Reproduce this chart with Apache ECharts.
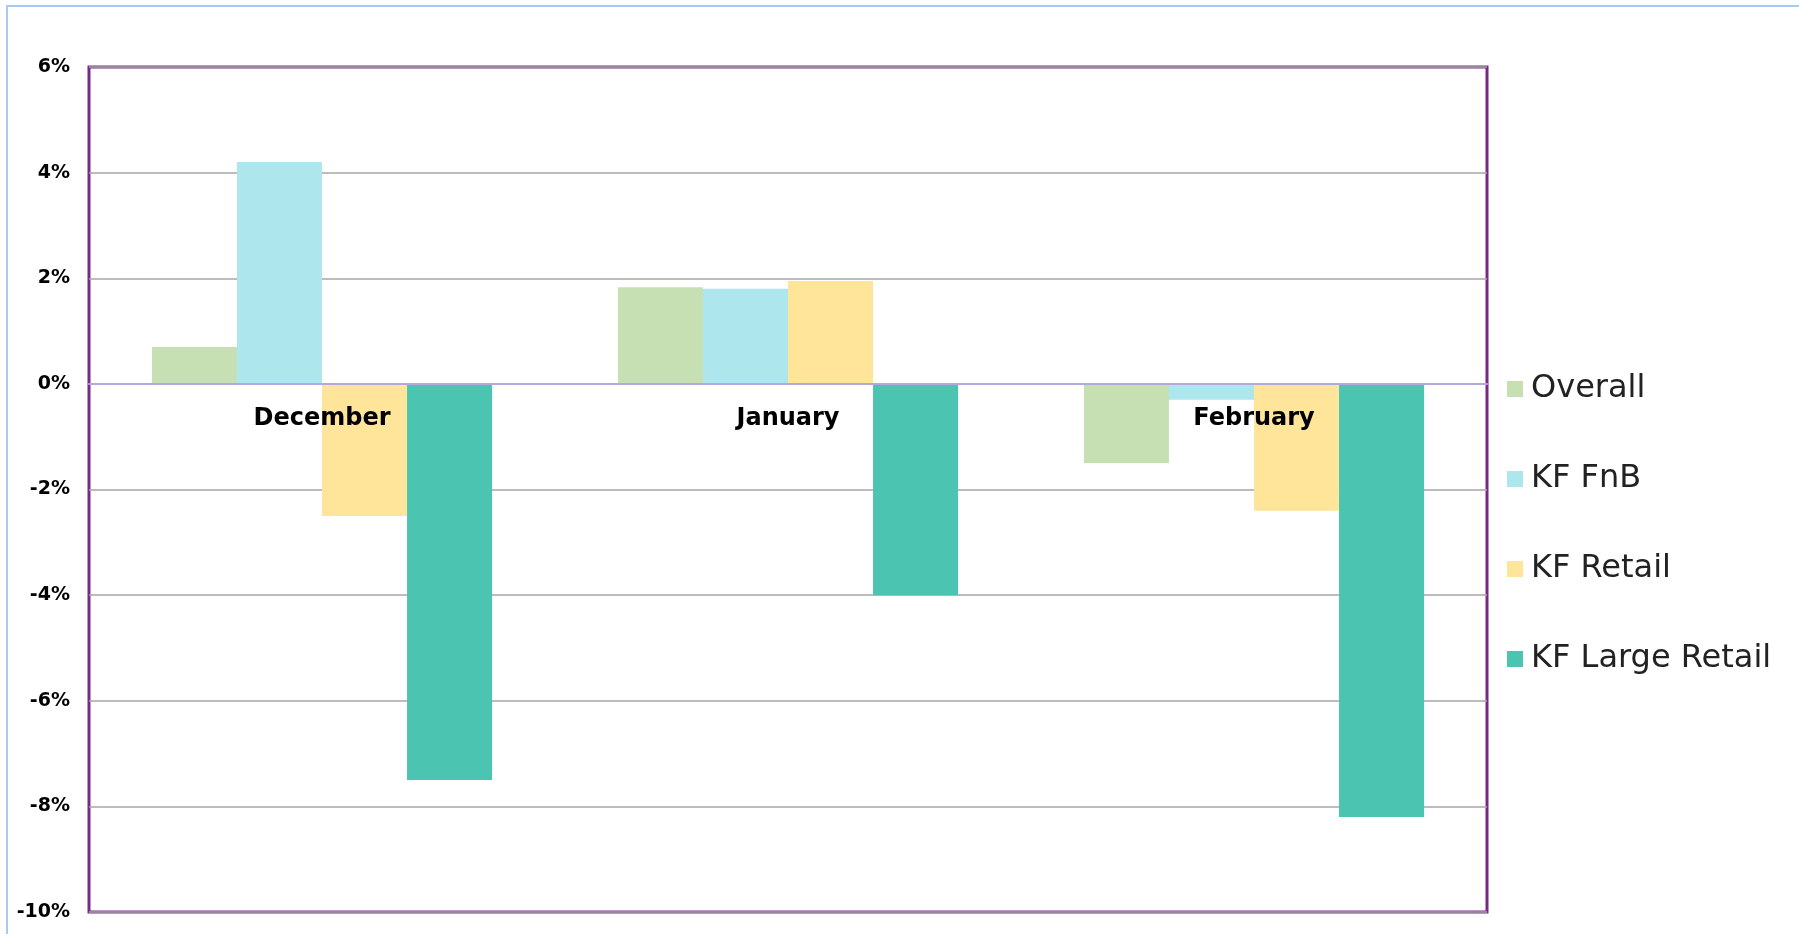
<!DOCTYPE html>
<html>
<head>
<meta charset="utf-8">
<script src="https://cdn.jsdelivr.net/npm/echarts@6/dist/echarts.min.js"></script>
<style>
html,body{margin:0;padding:0;background:#fff;}
#chart{width:1799px;height:934px;}
</style>
</head>
<body>
<div id="chart"></div>
<script>
const categories = ['December', 'January', 'February'];
const seriesNames = ['Overall', 'KF FnB', 'KF Retail', 'KF Large Retail'];
const overall = [0.7, 1.83, -1.5];
const kfFnB = [4.2, 1.8, -0.3];
const kfRetail = [-2.5, 1.95, -2.4];
const kfLargeRetail = [-7.5, -4.0, -8.2];
const yTicks = [-10, -8, -6, -4, -2, 0, 2, 4, 6];
const colors = ['#c6e0b4', '#aee6ee', '#fee599', '#4bc5b1'];

const chart = echarts.init(document.getElementById('chart'));
const seriesData = [overall, kfFnB, kfRetail, kfLargeRetail];
const barSeries = seriesNames.map((name, i) => ({
  name: name,
  type: 'bar',
  data: seriesData[i],
  barGap: 0,
  barCategoryGap: '27%',
  itemStyle: {color: colors[i]}
}));
const labelSeries = {
  name: 'categoryLabels',
  type: 'scatter',
  silent: true,
  z: 6,
  symbol: 'rect',
  symbolSize: 2,
  itemStyle: {color: 'rgba(255,255,255,0)'},
  data: categories.map(c => [c, 0]),
  labelLayout: {hideOverlap: false},
  label: {
    show: true,
    position: 'bottom',
    distance: 22,
    opacity: 1,
    textBorderWidth: 0,
    formatter: p => p.value[0],
    fontFamily: 'DejaVu Sans', fontWeight: 'bold', fontSize: 24, color: '#000000'
  }
};
const option = {
  animation: false,
  backgroundColor: '#fff',
  graphic: [{
    type: 'rect',
    shape: {x: 7, y: 6, width: 1900, height: 1000},
    style: {fill: 'none', stroke: '#a9c9f2', lineWidth: 2},
    z: -1
  }],
  grid: {
    left: 89, top: 67, right: 312, bottom: 22,
    outerBoundsMode: 'none',
    containLabel: false,
    show: true, borderColor: '#762a86', borderWidth: 3, backgroundColor: 'transparent'
  },
  legend: {
    orient: 'vertical',
    left: 1507, top: 373,
    itemWidth: 16, itemHeight: 16, itemGap: 58,
    icon: 'rect',
    padding: 0,
    data: seriesNames,
    textStyle: {fontFamily: 'DejaVu Sans', fontWeight: 'normal', fontSize: 32, color: '#222', padding: [0, 0, 0, 3]}
  },
  xAxis: {
    type: 'category',
    data: categories,
    z: 5,
    axisLine: {onZero: true, lineStyle: {color: '#b3a8dc', width: 2}},
    axisTick: {show: false},
    axisLabel: {show: false}
  },
  yAxis: {
    type: 'value',
    min: yTicks[0], max: yTicks[yTicks.length - 1], interval: 2,
    axisLine: {show: false},
    axisTick: {show: false},
    splitLine: {lineStyle: {color: '#a6a6a6', width: 1.5}},
    axisLabel: {margin: 19, formatter: '{value}%', fontFamily: 'DejaVu Sans', fontWeight: 'bold', fontSize: 19, color: '#000'}
  },
  series: barSeries.concat([labelSeries])
};
chart.setOption(option);
</script>
</body>
</html>
